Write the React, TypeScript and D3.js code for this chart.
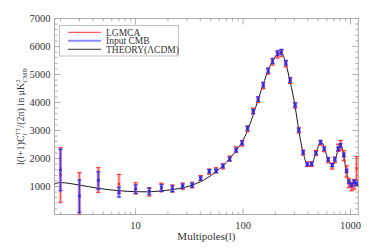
import { useEffect, useRef } from "react";
import * as d3 from "d3";

// multipole bins (binned l)
const ells = [
  2, 3, 4.5, 7, 10, 13.4, 17.4, 22, 27.4, 33.6, 40.3, 48.4, 56, 65, 75, 86, 98,
  110, 124, 138, 154, 171, 188, 209, 227, 250, 274, 305, 330, 362, 395, 434,
  476, 526, 568, 619, 675, 714, 767, 807, 866, 918, 964, 1022, 1080, 1137,
];
// input CMB spectrum + errors
const inputCmb = [
  1590, 655, 1214, 800, 905, 828, 946, 920, 1010, 1050, 1285, 1540, 1560, 1730,
  1980, 2300, 2560, 3080, 3680, 4120, 4630, 5140, 5480, 5760, 5810, 5420, 4800,
  3910, 3020, 2220, 1790, 1810, 2190, 2580, 2350, 1970, 1770, 1970, 2340, 2470,
  2130, 1560, 1170, 1050, 1170, 1100,
];
const inputErr = [
  740, 580, 310, 180, 150, 110, 120, 100, 75, 70, 60, 60, 60, 60, 65, 65, 70,
  70, 75, 75, 80, 80, 85, 85, 85, 80, 80, 70, 65, 60, 55, 55, 55, 60, 55, 55,
  55, 55, 60, 60, 60, 55, 55, 55, 60, 60,
];
// LGMCA estimate + errors
const lgmca = [
  1410, 696, 1232, 1089, 935, 809, 964, 925, 1012, 1050, 1300, 1530, 1580,
  1720, 2000, 2320, 2540, 3060, 3700, 4100, 4600, 5120, 5450, 5700, 5760, 5380,
  4780, 3900, 3000, 2210, 1800, 1800, 2200, 2560, 2330, 1940, 1720, 1950, 2380,
  2471, 2100, 1540, 1120, 1000, 1080, 1650,
];
const lgmcaErr = [
  975, 800, 440, 340, 200, 150, 150, 130, 110, 100, 90, 90, 90, 90, 90, 95, 95,
  100, 100, 100, 105, 105, 110, 110, 110, 105, 100, 95, 90, 85, 80, 80, 85, 85,
  85, 90, 95, 100, 130, 170, 180, 200, 160, 150, 170, 420,
];
// theory curve (LCDM)
const theoryL = [
  1, 2, 3, 4.5, 7, 10, 13, 17, 22, 27, 33, 40, 48, 56, 65, 75, 86, 98, 110,
  124, 138, 154, 171, 188, 209, 220, 232, 250, 274, 305, 330, 362, 395, 415,
  434, 476, 526, 545, 568, 619, 675, 700, 740, 790, 815, 840, 866, 918, 964,
  1000, 1040, 1080, 1137, 1180,
];
const theoryD = [
  0, 1140, 1050, 935, 850, 815, 810, 840, 890, 950, 1040, 1170, 1340, 1530,
  1740, 1990, 2280, 2600, 3000, 3550, 4100, 4650, 5150, 5480, 5720, 5760, 5730,
  5380, 4750, 3850, 3000, 2200, 1800, 1750, 1790, 2200, 2560, 2560, 2380, 1970,
  1760, 1800, 2120, 2420, 2450, 2330, 2080, 1500, 1130, 1000, 1010, 1120, 1110,
  1050,
];
const yTicks = [1000, 2000, 3000, 4000, 5000, 6000, 7000];
const xTicks = [10, 100, 1000];

const W = 375;
const H = 250;
const margin = { left: 54.5, right: 16.7, top: 18.5, bottom: 35.5 };

export default function App() {
  const ref = useRef<SVGSVGElement>(null);

  useEffect(() => {
    const svg = d3.select(ref.current);
    svg.selectAll("*").remove();

    const x = d3
      .scaleLog()
      .domain([1.76, 1180])
      .range([margin.left, W - margin.right]);
    const y = d3
      .scaleLinear()
      .domain([0, 7000])
      .range([H - margin.bottom, margin.top]);

    const frame = "#9a9a9a";
    const txt = "#333";
    const font = "'Liberation Serif', 'DejaVu Serif', serif";

    const x0 = margin.left;
    const x1 = W - margin.right;
    const y0 = H - margin.bottom;
    const y1 = margin.top;

    svg
      .append("defs")
      .append("clipPath")
      .attr("id", "plotclip")
      .append("rect")
      .attr("x", x0)
      .attr("y", y1)
      .attr("width", x1 - x0)
      .attr("height", y0 - y1);

    const ax = svg.append("g").attr("stroke", frame).attr("stroke-width", 0.8);
    ax.append("rect")
      .attr("x", x0)
      .attr("y", y1)
      .attr("width", x1 - x0)
      .attr("height", y0 - y1)
      .attr("fill", "none");

    // y ticks (minor every 200)
    const yMinor = d3.range(200, 7000, 200);
    yMinor.forEach((v) => {
      const len = v % 1000 === 0 ? 6 : 3;
      ax.append("line").attr("x1", x0).attr("x2", x0 + len).attr("y1", y(v)).attr("y2", y(v));
      ax.append("line").attr("x1", x1).attr("x2", x1 - len).attr("y1", y(v)).attr("y2", y(v));
    });
    // x ticks (log minor)
    const xMinor: number[] = [];
    [1, 10, 100, 1000].forEach((dec) => {
      for (let k = 1; k < 10; k++) {
        const v = dec * k;
        if (v >= 1.76 && v <= 1180) xMinor.push(v);
      }
    });
    xMinor.forEach((v) => {
      const len = xTicks.includes(v) ? 6 : 3;
      ax.append("line").attr("x1", x(v)).attr("x2", x(v)).attr("y1", y0).attr("y2", y0 - len);
      ax.append("line").attr("x1", x(v)).attr("x2", x(v)).attr("y1", y1).attr("y2", y1 + len);
    });

    // tick labels
    svg
      .append("g")
      .attr("font-family", font)
      .attr("font-size", 10.5)
      .attr("fill", txt)
      .attr("text-anchor", "end")
      .selectAll("text")
      .data(yTicks)
      .join("text")
      .attr("x", x0 - 4)
      .attr("y", (d) => y(d) + 3.5)
      .text((d) => d);
    svg
      .append("g")
      .attr("font-family", font)
      .attr("font-size", 10.5)
      .attr("fill", txt)
      .attr("text-anchor", "middle")
      .selectAll("text")
      .data(xTicks)
      .join("text")
      .attr("x", (d) => x(d))
      .attr("y", y0 + 14)
      .text((d) => d);

    svg
      .append("text")
      .attr("x", (x0 + x1) / 2)
      .attr("y", 240)
      .attr("text-anchor", "middle")
      .attr("font-family", font)
      .attr("font-size", 11)
      .attr("fill", txt)
      .text("Multipoles(l)");

    // y axis title
    const yt = svg
      .append("text")
      .attr("transform", `translate(24,${(y0 + y1) / 2}) rotate(-90)`)
      .attr("text-anchor", "middle")
      .attr("font-family", font)
      .attr("font-size", 10)
      .attr("fill", txt);
    yt.append("tspan").text("l(l+1)C");
    yt.append("tspan").attr("font-size", 6.5).attr("dy", 2.5).text("l");
    yt.append("tspan").attr("font-size", 6.5).attr("dx", -2).attr("dy", -7).text("TT");
    yt.append("tspan").attr("dy", 4.5).text("/(2π) in  μK");
    yt.append("tspan").attr("font-size", 6.5).attr("dy", -4).text("2");
    yt.append("tspan").attr("font-size", 6.5).attr("dx", -3).attr("dy", 7).text("CMB");

    const plot = svg.append("g").attr("clip-path", "url(#plotclip)");

    // theory curve
    const line = d3
      .line<number>()
      .x((_, i) => x(theoryL[i]))
      .y((d) => y(d))
      .curve(d3.curveMonotoneX);
    plot
      .append("path")
      .datum(theoryD)
      .attr("d", line)
      .attr("fill", "none")
      .attr("stroke", "#1a1a1a")
      .attr("stroke-width", 1);

    const drawBars = (vals: number[], errs: number[], halo: string, core: string, cap: number) => {
      const g = plot.append("g");
      ells.forEach((l, i) => {
        const cx = x(l);
        const lo = y(Math.max(0, vals[i] - errs[i]));
        const hi = y(vals[i] + errs[i]);
        g.append("rect")
          .attr("x", cx - 1.6)
          .attr("y", hi - 1)
          .attr("width", 3.2)
          .attr("height", lo - hi + 2)
          .attr("fill", halo);
        g.append("line")
          .attr("x1", cx).attr("x2", cx).attr("y1", hi).attr("y2", lo)
          .attr("stroke", core).attr("stroke-width", 0.8);
        [hi, lo].forEach((yy) =>
          g.append("line")
            .attr("x1", cx - cap).attr("x2", cx + cap).attr("y1", yy).attr("y2", yy)
            .attr("stroke", core).attr("stroke-width", 1)
        );
        g.append("rect")
          .attr("x", cx - 1.2)
          .attr("y", y(vals[i]) - 1.2)
          .attr("width", 2.4)
          .attr("height", 2.4)
          .attr("fill", core);
      });
    };
    drawBars(lgmca, lgmcaErr, "rgba(255,60,60,0.35)", "#ff2a2a", 2.2);
    drawBars(inputCmb, inputErr, "rgba(90,90,255,0.45)", "#2a2ae8", 2);

    // legend
    const lg = svg.append("g");
    lg.append("rect")
      .attr("x", 59.5)
      .attr("y", 25.5)
      .attr("width", 119)
      .attr("height", 30.5)
      .attr("fill", "white")
      .attr("stroke", "#b0b0b0")
      .attr("stroke-width", 0.8);
    const items = [
      { name: "LGMCA", color: "#ff3030", w: 1 },
      { name: "Input CMB", color: "#8c8cff", w: 2 },
      { name: "THEORY(ΛCDM)", color: "#333", w: 1 },
    ];
    items.forEach((it, i) => {
      const yy = 32.3 + i * 8.5;
      lg.append("line")
        .attr("x1", 68)
        .attr("x2", 101)
        .attr("y1", yy)
        .attr("y2", yy)
        .attr("stroke", it.color)
        .attr("stroke-width", it.w);
      lg.append("text")
        .attr("x", 106)
        .attr("y", yy + 3.3)
        .attr("font-family", font)
        .attr("font-size", 9.5)
        .attr("fill", txt)
        .text(it.name);
    });
  }, []);

  return (
    <svg
      ref={ref}
      width={W}
      height={H}
      style={{ position: "absolute", left: 0, top: 0, background: "white" }}
    />
  );
}
